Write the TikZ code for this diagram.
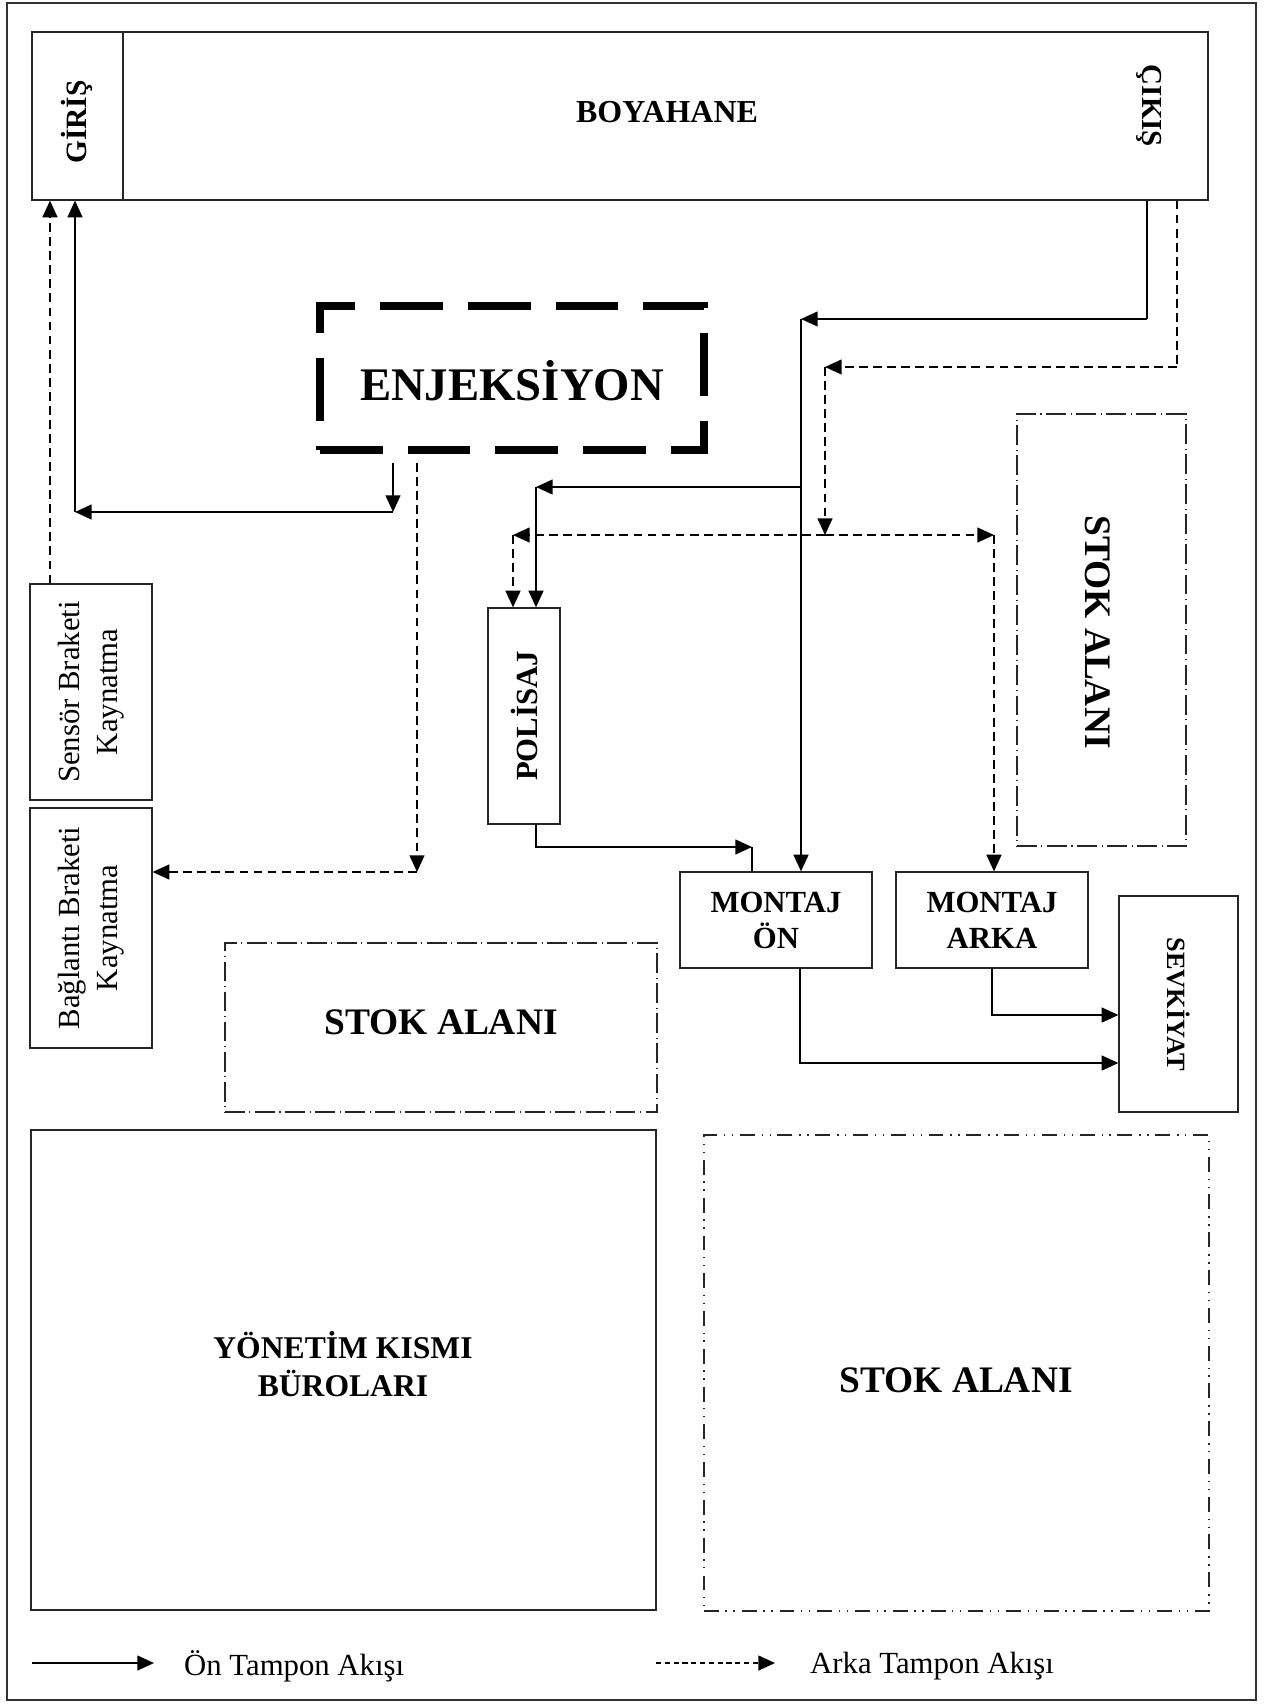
\documentclass[tikz,border=0pt]{standalone}
\usepackage{fontspec}
\setmainfont{Liberation Serif}
\usepackage{tikz}
\usetikzlibrary{arrows.meta, positioning, fit}

\begin{document}
\begin{tikzpicture}[x=0.02cm, y=-0.02cm,
    kutu/.style={draw=black!85, line width=0.7pt, inner sep=0pt},
    enjkutu/.style={draw, line width=4pt, inner sep=0pt, dash pattern=on 35.7pt off 14.2pt},
    stok/.style={draw=black!85, line width=0.8pt, inner sep=0pt, dash pattern=on 11.3pt off 2.6pt on 0.6pt off 2.6pt},
    stokb/.style={draw=black!85, line width=1pt, inner sep=0pt, dash pattern=on 8.5pt off 3.7pt on 0.8pt off 3.7pt on 0.8pt off 4pt},
    hat/.style={line width=0.9pt},
    onflow/.style={hat, -{Triangle[length=9.5pt,width=8.5pt]}},
    arflow/.style={onflow, dash pattern=on 5pt off 3pt},
    yazi/.style={font=\fontsize{17.5}{21.5}\selectfont},
    kalin/.style={font=\fontsize{17.5}{20.5}\selectfont\bfseries},
    stokyazi/.style={font=\fontsize{21.3}{25}\selectfont\bfseries}
]
\useasboundingbox (0,0) rectangle (1271,1704);

% Cerceve
\draw[black!80, line width=0.8pt] (7,3) rectangle (1256,1700);

% Boyahane
\node[kutu, fit={(32,32) (1208,200)}] (boy) {};
\node[kutu, fit={(32,32) (123,200)}] (giris) {};
\node[kalin, font=\fontsize{16.8}{19}\selectfont\bfseries, rotate=90] (girisT) at (77,122) {GİRİŞ};
\node[kalin, font=\fontsize{16.5}{19}\selectfont\bfseries, rotate=-90] (cikisT) at (1149,106) {ÇIKIŞ};
\node[kalin, font=\fontsize{18.2}{21}\selectfont\bfseries] (boyT) at (667,112) {BOYAHANE};

% Enjeksiyon
\node[enjkutu, fit={(320,306) (704,450)}] (enj) {};
\node[font=\fontsize{26.6}{30}\selectfont\bfseries] (enjT) at (512,381) {ENJEKSİYON};

% Kaynatma kutulari
\node[kutu, fit={(30,584) (152,800)}] (sensor) {};
\node[yazi, rotate=90, align=center] (sensorT) at (sensor.center) {Sensör Braketi\\Kaynatma};
\node[kutu, fit={(30,808) (152,1048)}] (bag) {};
\node[yazi, rotate=90, align=center] (bagT) at (bag.center) {Bağlantı Braketi\\Kaynatma};

% Polisaj ve montaj
\node[kutu, fit={(488,608) (560,824)}] (pol) {};
\node[kalin, rotate=90] (polT) at (pol.center) {POLİSAJ};
\node[kutu, fit={(680,872) (872,968)}] (mon) {};
\node[kalin, align=center] (monT) at (mon.center) {MONTAJ\\ÖN};
\node[kutu, fit={(896,872) (1088,968)}] (mar) {};
\node[kalin, align=center] (marT) at (mar.center) {MONTAJ\\ARKA};
\node[kutu, fit={(1119,896) (1238,1112)}] (sev) {};
\node[kalin, font=\fontsize{15}{18}\selectfont\bfseries, rotate=-90] (sevT) at (sev.center) {SEVKİYAT};

% Stok alanlari
\node[stok, fit={(1017,414) (1186,846)}] (stokR) {};
\node[stokyazi, rotate=-90] (stokRT) at (1098,632) {STOK ALANI};
\node[stok, fit={(225,943) (657,1112)}] (stokM) {};
\node[stokyazi] (stokMT) at (441,1022) {STOK ALANI};
\node[stokb, fit={(704,1135) (1209,1611)}] (stokB) {};
\node[stokyazi] (stokBT) at (956,1380) {STOK ALANI};

% Yonetim
\node[kutu, fit={(31,1130) (656,1610)}] (yon) {};
\node[kalin, font=\fontsize{18}{21.5}\selectfont\bfseries, align=center] (yonT) at (343,1364) {YÖNETİM KISMI\\BÜROLARI};

% Kirilma noktalari
\coordinate (enjA) at (393,463);
\coordinate (enjB) at (417,463);
\coordinate (dA) at (393,512);
\coordinate (dB) at (75,512);
\coordinate (gD) at (50,400);
\coordinate (bA) at (417,872);
\coordinate (cA) at (1147,319);
\coordinate (cB) at (801,319);
\coordinate (cC) at (801,487);
\coordinate (cD) at (536,487);
\coordinate (kA) at (1177,367);
\coordinate (kB) at (825,367);
\coordinate (kC) at (825,535);
\coordinate (kD) at (513,535);
\coordinate (kE) at (994,535);
\coordinate (pB) at (752,847);
\coordinate (oA) at (800,1063);
\coordinate (rA) at (992,1015);

% Enjeksiyon cikislari
\draw[onflow] (enjA) -- (dA);
\draw[onflow] (dA) -- (dB);
\draw[onflow] (dB) -- (dB |- boy.south);
\draw[arflow] (gD |- sensor.north) -- (gD |- boy.south);
\draw[arflow] (enjB) -- (bA);
\draw[arflow] (bA) -- (bA -| bag.east);

% On tampon
\draw[hat] (cA |- boy.south) -- (cA);
\draw[onflow] (cA) -- (cB);
\draw[onflow] (cB) -- (cB |- mon.north);
\draw[onflow] (cC) -- (cD);
\draw[onflow] (cD) -- (cD |- pol.north);
\draw[onflow] (cD |- pol.south) |- (pB);
\draw[hat, line width=0.6pt] (pB) -- (pB |- mon.north);

% Arka tampon
\draw[hat, dash pattern=on 5pt off 3pt] (kA |- boy.south) -- (kA);
\draw[arflow] (kA) -- (kB);
\draw[arflow] (kB) -- (kC);
\draw[arflow] (kC) -- (kD);
\draw[arflow] (kC) -- (kE);
\draw[arflow] (kD) -- (kD |- pol.north);
\draw[arflow] (kE) -- (kE |- mar.north);

% Sevkiyat
\draw[onflow] (oA |- mon.south) |- (oA -| sev.west);
\draw[onflow] (rA |- mar.south) |- (rA -| sev.west);

% Lejant
\coordinate (lA) at (32,1663);
\coordinate (lB) at (154,1663);
\coordinate (lC) at (656,1663);
\coordinate (lD) at (775,1663);
\draw[onflow] (lA) -- (lB);
\node[yazi, anchor=west] (lon) at (178,1666) {Ön Tampon Akışı};
\draw[arflow, dash pattern=on 3pt off 2pt] (lC) -- (lD);
\node[yazi, anchor=west] (lark) at (804,1666) {Arka Tampon Akışı};
\end{tikzpicture}
\end{document}
